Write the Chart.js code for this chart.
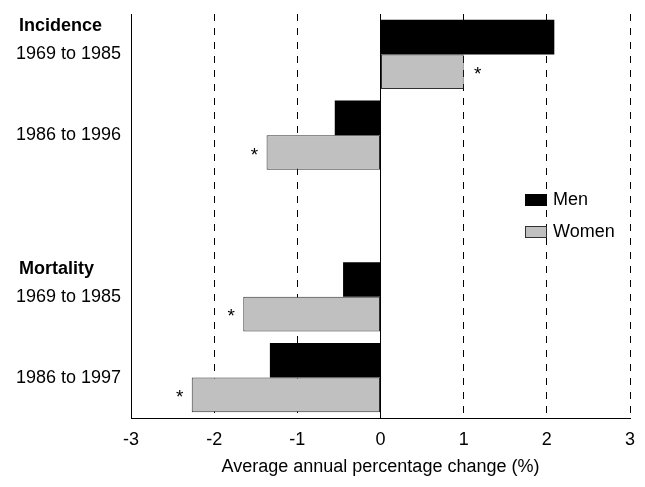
<!DOCTYPE html>
<html><head><meta charset="utf-8">
<script src="https://cdn.jsdelivr.net/npm/chart.js@4/dist/chart.umd.min.js"></script>
<style>html,body{margin:0;padding:0;background:#fff}#wrap{width:645px;height:487px}</style>
</head><body><div id="wrap"><canvas id="c" width="645" height="487"></canvas></div>
<script>
const categories = ["1969 to 1985", "1986 to 1996", "", "1969 to 1985", "1986 to 1997"];
const groupHeadings = ["Incidence", "", "", "Mortality", ""];
const seriesNames = ["Men", "Women"];
const menValues = [2.09, -0.55, null, -0.45, -1.33];
const womenValues = [1.0, -1.37, null, -1.65, -2.27];
const menSignificant = [false, false, false, false, false];
const womenSignificant = [true, true, false, true, true];
const xTicks = [-3, -2, -1, 0, 1, 2, 3];
const xTitle = "Average annual percentage change (%)";

const FONT = "'Liberation Sans', Arial, sans-serif";

const headingPlugin = {
  id: 'headings',
  afterDraw(chart) {
    const ctx = chart.ctx, ys = chart.scales.y;
    ctx.save();
    ctx.font = "bold 18px " + FONT;
    ctx.fillStyle = '#000';
    ctx.textAlign = 'left';
    ctx.textBaseline = 'middle';
    groupHeadings.forEach((h, i) => {
      if (h) ctx.fillText(h, 19, ys.getPixelForValue(i) - 28);
    });
    ctx.restore();
  }
};

const starPlugin = {
  id: 'stars',
  afterDatasetsDraw(chart) {
    const ctx = chart.ctx;
    const flags = [menSignificant, womenSignificant];
    ctx.save();
    ctx.font = "19px " + FONT;
    ctx.fillStyle = '#000';
    ctx.textAlign = 'center';
    ctx.textBaseline = 'middle';
    chart.data.datasets.forEach((ds, di) => {
      const meta = chart.getDatasetMeta(di);
      meta.data.forEach((el, i) => {
        if (!flags[di][i] || ds.data[i] == null) return;
        const v = ds.data[i];
        const x = v >= 0 ? el.x + 14 : el.x - 12;
        ctx.fillText('*', x, el.y + 3);
      });
    });
    ctx.restore();
  }
};

const legendPlugin = {
  id: 'customLegend',
  afterDraw(chart) {
    const ctx = chart.ctx;
    ctx.save();
    ctx.font = "18px " + FONT;
    ctx.textAlign = 'left';
    ctx.textBaseline = 'middle';
    chart.data.datasets.forEach((ds, i) => {
      const cy = 200 + i * 32;
      ctx.fillStyle = ds.backgroundColor;
      ctx.fillRect(525, cy - 6, 22, 12);
      ctx.strokeStyle = ds.borderColor;
      ctx.lineWidth = 1;
      ctx.strokeRect(525.5, cy - 5.5, 21, 11);
      ctx.fillStyle = '#000';
      ctx.fillText(ds.label, 553, cy);
    });
    ctx.restore();
  }
};

new Chart(document.getElementById('c'), {
  type: 'bar',
  data: {
    labels: categories,
    datasets: [
      { label: seriesNames[0], data: menValues, backgroundColor: '#000000', borderColor: '#000000', borderWidth: 0, borderSkipped: false },
      { label: seriesNames[1], data: womenValues, backgroundColor: '#c0c0c0', borderColor: '#303030', borderWidth: 1, borderSkipped: false }
    ]
  },
  options: {
    responsive: false,
    animation: false,
    devicePixelRatio: 1,
    indexAxis: 'y',
    categoryPercentage: 0.856,
    barPercentage: 1.0,
    layout: { padding: { top: 14, right: 15, bottom: 0, left: 0 } },
    plugins: { legend: { display: false }, tooltip: { enabled: false } },
    scales: {
      x: {
        type: 'linear',
        min: -3, max: 3,
        afterBuildTicks: s => { s.ticks = xTicks.map(v => ({ value: v })); },
        afterFit: s => { s.height = 69; s.paddingLeft = 0; s.paddingRight = 0; },
        ticks: { font: { size: 18, family: FONT }, color: '#000', padding: 11, callback: v => String(v) },
        grid: {
          drawTicks: false,
          lineWidth: 1,
          color: c => (c.tick && c.tick.value === -3) ? 'rgba(0,0,0,0)' : '#000'
        },
        border: {
          display: true, color: '#000', width: 1,
          dash: c => (c.tick && c.tick.value !== 0) ? [7, 7] : []
        },
        title: { display: true, text: xTitle, color: '#000', font: { size: 18, family: FONT }, padding: { top: 0, bottom: 9 } }
      },
      y: {
        type: 'category',
        afterFit: s => { s.width = 131; s.paddingTop = 0; s.paddingBottom = 0; },
        ticks: { font: { size: 18, family: FONT }, color: '#000', padding: 10 },
        grid: { display: false, drawTicks: false },
        border: { display: true, color: '#000', width: 1 }
      }
    }
  },
  plugins: [headingPlugin, starPlugin, legendPlugin]
});
</script>
</body></html>
